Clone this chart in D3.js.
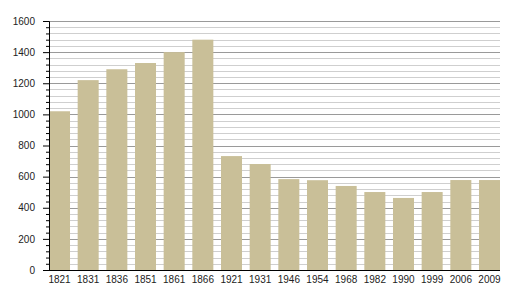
<!DOCTYPE html>
<html>
<head>
<meta charset="utf-8">
<script src="https://cdn.jsdelivr.net/npm/d3@7"></script>
<style>
  body { margin: 0; background: #fff; }
  text { font-family: "Liberation Sans", Arial, sans-serif; font-size: 10px; fill: #222; }
</style>
</head>
<body>
<svg id="chart" width="508" height="300"></svg>
<script>
// population by census year
const years = ["1821","1831","1836","1851","1861","1866","1921","1931","1946","1954","1968","1982","1990","1999","2006","2009"];
const population = [1020, 1220, 1290, 1330, 1400, 1480, 732, 681, 584, 577, 540, 501, 463, 501, 578, 578];
const yTicks = [0, 200, 400, 600, 800, 1000, 1200, 1400, 1600];

const margin = {top: 21, right: 8, bottom: 30, left: 49};
const width = 508 - margin.left - margin.right,
      height = 300 - margin.top - margin.bottom;

const svg = d3.select("#chart");
const g = svg.append("g").attr("transform", "translate(" + margin.left + "," + margin.top + ")");

const x = d3.scaleBand().domain(years).range([0, width]).paddingInner(0.267).paddingOuter(0);
const y = d3.scaleLinear().domain([0, 1600]).range([height, 0]);

// minor grid every 40, major every 200
const minor = d3.range(0, 1601, 40).filter(v => v % 200 != 0);
g.selectAll(".minor").data(minor).enter().append("line")
  .attr("x1", 0).attr("x2", width)
  .attr("y1", d => Math.round(y(d)) + 0.5).attr("y2", d => Math.round(y(d)) + 0.5)
  .attr("stroke", "#cfcfcf").attr("stroke-width", 1);
g.selectAll(".major").data(yTicks).enter().append("line")
  .attr("x1", 0).attr("x2", width)
  .attr("y1", d => Math.round(y(d)) + 0.5).attr("y2", d => Math.round(y(d)) + 0.5)
  .attr("stroke", "#9a9a9a").attr("stroke-width", 1);

g.selectAll(".bar").data(years).enter().append("rect")
  .attr("x", d => x(d))
  .attr("width", x.bandwidth())
  .attr("y", (d, i) => y(population[i]))
  .attr("height", (d, i) => height - y(population[i]))
  .attr("fill", "#c9bf98");

// left axis with minor ticks
const yAxis = g.append("g").call(d3.axisLeft(y).tickValues(yTicks).tickFormat(d3.format("d")).tickSize(6).tickPadding(8));
yAxis.select(".domain").attr("stroke", "#000");
yAxis.selectAll("text").attr("font-size", 10).attr("fill", "#222");
const yMinor = g.append("g").call(d3.axisLeft(y).tickValues(minor).tickSize(3).tickFormat(""));
yMinor.select(".domain").remove();

const xAxis = g.append("g").attr("transform", "translate(0," + height + ")")
  .call(d3.axisBottom(x).tickSize(0).tickPadding(6));
xAxis.select(".domain").attr("stroke", "#000").attr("d", "M0,0.5H" + width);
xAxis.selectAll("text").attr("font-size", 10).attr("fill", "#222");
</script>
</body>
</html>
